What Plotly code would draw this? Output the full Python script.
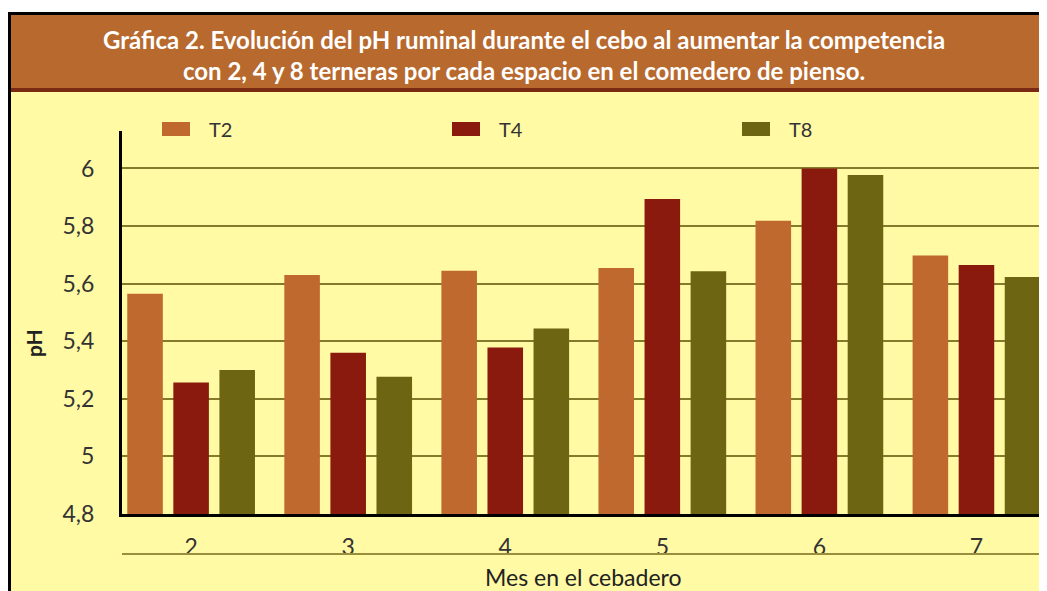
import plotly.graph_objects as go

# ---- data ----
months = [2, 3, 4, 5, 6, 7]
month_labels = ["2", "3", "4", "5", "6", "7"]
series_names = ["T2", "T4", "T8"]
t2 = [5.565, 5.63, 5.645, 5.654, 5.818, 5.698]
t4 = [5.257, 5.36, 5.378, 5.894, 6.0, 5.665]
t8 = [5.30, 5.277, 5.444, 5.643, 5.977, 5.623]
y_ticks = [4.8, 5.0, 5.2, 5.4, 5.6, 5.8, 6.0]
y_ticktext = ["4,8", "5", "5,2", "5,4", "5,6", "5,8", "6"]

colors = ["#C0692F", "#8B1A0E", "#6E6512"]
YELLOW = "#FFFAA3"
BROWN = "#B8692E"

OFF = 8  # page body margin
W, H = 1047, 591
# plot area in page pixels: x 122..1044, y 131..514
L, R, T, B = 122 - OFF, W - (1044 - OFF), 131 - OFF, H - (514 - OFF)
PW, PH = W - L - R, H - T - B


def px(x):  # page pixel x -> paper
    return (x - OFF - L) / PW


def py(y):  # page pixel y -> paper
    return (H - B - (y - OFF)) / PH


fig = go.Figure()
for name, vals, c in zip(series_names, [t2, t4, t8], colors):
    fig.add_trace(go.Bar(x=months, y=vals, name=name, marker=dict(color=c, line=dict(width=0)),
                         showlegend=False))

XR = 1047 + 20
shapes = []
# white top strip
shapes.append(dict(type="rect", xref="paper", yref="paper", x0=px(OFF), x1=px(XR), y0=py(OFF - 2), y1=py(12),
                   fillcolor="white", line=dict(width=0), layer="below"))
# brown title band
shapes.append(dict(type="rect", xref="paper", yref="paper", x0=px(11), x1=px(XR), y0=py(15), y1=py(88),
                   fillcolor=BROWN, line=dict(width=0), layer="below"))
shapes.append(dict(type="rect", xref="paper", yref="paper", x0=px(11), x1=px(XR), y0=py(88), y1=py(92),
                   fillcolor="#7A2A12", line=dict(width=0), layer="below"))
# black border
shapes.append(dict(type="rect", xref="paper", yref="paper", x0=px(OFF), x1=px(XR), y0=py(12), y1=py(15),
                   fillcolor="black", line=dict(width=0), layer="below"))
shapes.append(dict(type="rect", xref="paper", yref="paper", x0=px(OFF), x1=px(11), y0=py(12), y1=py(620),
                   fillcolor="black", line=dict(width=0), layer="below"))
# underline below x tick labels
shapes.append(dict(type="line", xref="paper", yref="paper", x0=0, x1=1, y0=py(554), y1=py(554),
                   line=dict(color="#9A8E3C", width=2)))

annotations = []
# legend
for i, (name, c) in enumerate(zip(series_names, colors)):
    sx = 162 + 290 * i
    shapes.append(dict(type="rect", xref="paper", yref="paper", x0=px(sx), x1=px(sx + 28),
                       y0=py(122), y1=py(136), fillcolor=c, line=dict(width=0)))
    annotations.append(dict(xref="paper", yref="paper", x=px(sx + 45), y=py(129), text=name,
                            showarrow=False, xanchor="left", yanchor="middle",
                            font=dict(family="Lato", size=20, color="#333333")))

# title
annotations.append(dict(xref="paper", yref="paper", x=px(524), y=py(55),
                        text="Gráfica 2. Evolución del pH ruminal durante el cebo al aumentar la competencia<br>"
                             "con 2, 4 y 8 terneras por cada espacio en el comedero de pienso.",
                        showarrow=False, xanchor="center", yanchor="middle", align="center",
                        font=dict(family="Lato", size=24, color="white", weight="bold")))
# y title
annotations.append(dict(xref="paper", yref="paper", x=px(33), y=py(343), text="pH", textangle=-90,
                        showarrow=False, xanchor="center", yanchor="middle",
                        font=dict(family="Lato", size=21, color="#222222", weight="bold")))
# x title
annotations.append(dict(xref="paper", yref="paper", x=0.5, y=py(577), text="Mes en el cebadero",
                        showarrow=False, xanchor="center", yanchor="middle",
                        font=dict(family="Lato", size=23, color="#222222")))

fig.update_layout(
    width=W, height=H,
    margin=dict(l=L, r=R, t=T, b=B, pad=0),
    paper_bgcolor=YELLOW, plot_bgcolor=YELLOW,
    barmode="group", bargap=0.12, bargroupgap=0.228,
    shapes=shapes, annotations=annotations,
    showlegend=False,
)
fig.update_xaxes(range=[1.56, 7.43], tickvals=months, ticktext=month_labels,
                 showline=True, linecolor="black", linewidth=3, showgrid=False, zeroline=False,
                 ticks="", ticklabelstandoff=10,
                 tickfont=dict(family="Lato", size=23, color="#333333"))
fig.update_yaxes(range=[4.8, 6.13], tickvals=y_ticks, ticktext=y_ticktext,
                 showline=True, linecolor="black", linewidth=3,
                 showgrid=True, gridcolor="#857A2C", gridwidth=2, zeroline=False,
                 ticks="", ticklabelstandoff=20,
                 tickfont=dict(family="Lato", size=23, color="#333333"))

fig.write_html("out.html")
